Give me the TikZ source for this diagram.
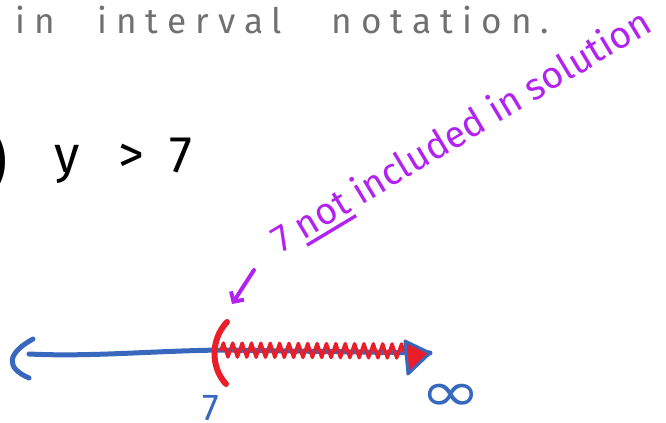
\documentclass[tikz,border=0pt]{standalone}
\usepackage{fontspec}
\setmainfont{Fira Sans}
\newfontfamily\inffont{DejaVu Sans}
\usetikzlibrary{positioning, arrows.meta, decorations.pathmorphing}
\definecolor{inkblue}{RGB}{56,104,190}
\definecolor{inkred}{RGB}{234,30,40}
\definecolor{inkpurple}{RGB}{178,34,240}
\definecolor{inkgray}{RGB}{112,112,112}
\newcommand{\notbar}[1]{\setbox0\hbox{#1}\rlap{\raisebox{-0.2em}{\rule{\wd0}{0.09em}}}\box0\relax}

\begin{document}
\begin{tikzpicture}[x=0.03cm, y=-0.03cm, line cap=round, line join=round]
        \tikzset{
            bluepen/.style={draw=inkblue, line width=1.5mm},
            redpen/.style={draw=inkred, line width=1.8mm},
            purplepen/.style={draw=inkpurple, line width=1.2mm},
            bluetext/.style={text=inkblue, inner sep=0pt, font=\fontsize{32}{36}\selectfont}
        }
        \useasboundingbox (0,0) rectangle (666,423);
        \node[anchor=base west, inner sep=0pt, text=inkgray, font=\fontsize{30}{32}\selectfont\addfontfeature{LetterSpace=26}] (title) at (15,34) {in\hspace{1.2em}interval\hspace{1.4em}notation.};
        \node[anchor=east, inner sep=0pt, font=\fontsize{60}{64}\selectfont] (paren) at (9,162) {)};
        \node[anchor=base west, inner sep=0pt, font=\fontsize{44}{48}\selectfont] (ineq) at (54,172) {y\hspace{0.75em}>\hspace{0.5em}7};
        \node[anchor=base west, inner sep=0pt, rotate=31, text=inkpurple, font=\fontsize{32}{34}\selectfont] (note) at (281,254) {7 \notbar{not} included in solution};
        \coordinate (notetail) at (254,270);
        \coordinate (notehead) at (232,304);
        \draw[purplepen, -{Straight Barb[length=2.2mm, width=4.6mm]}] (notetail) -- (notehead);
        \coordinate (lefttip) at (29,354);
        \coordinate (open) at (221,350);
        \coordinate (righttip) at (430,353);
        \draw[bluepen] (lefttip) .. controls (90,357) and (150,351) .. (open) -- (righttip);
        \draw[bluepen] (33,339) .. controls (6,354) and (6,368) .. (29,378);
        \draw[draw=inkred, line width=1mm, decorate, decoration={zigzag, segment length=8pt, amplitude=6pt}] (open) -- (406,351);
        \filldraw[draw=inkblue, fill=inkred, line width=0.9mm] (405,341) -- (righttip) -- (408,374) -- cycle;
        \draw[redpen] (227,322) .. controls (210,340) and (211,368) .. (226,384);
        \node[bluetext, anchor=base] (seven) at (211,420) {7};
        \node[bluetext, anchor=center, xscale=1.3, font=\fontsize{48}{52}\inffont] (infty) at (451,398) {∞};
\end{tikzpicture}
\end{document}
